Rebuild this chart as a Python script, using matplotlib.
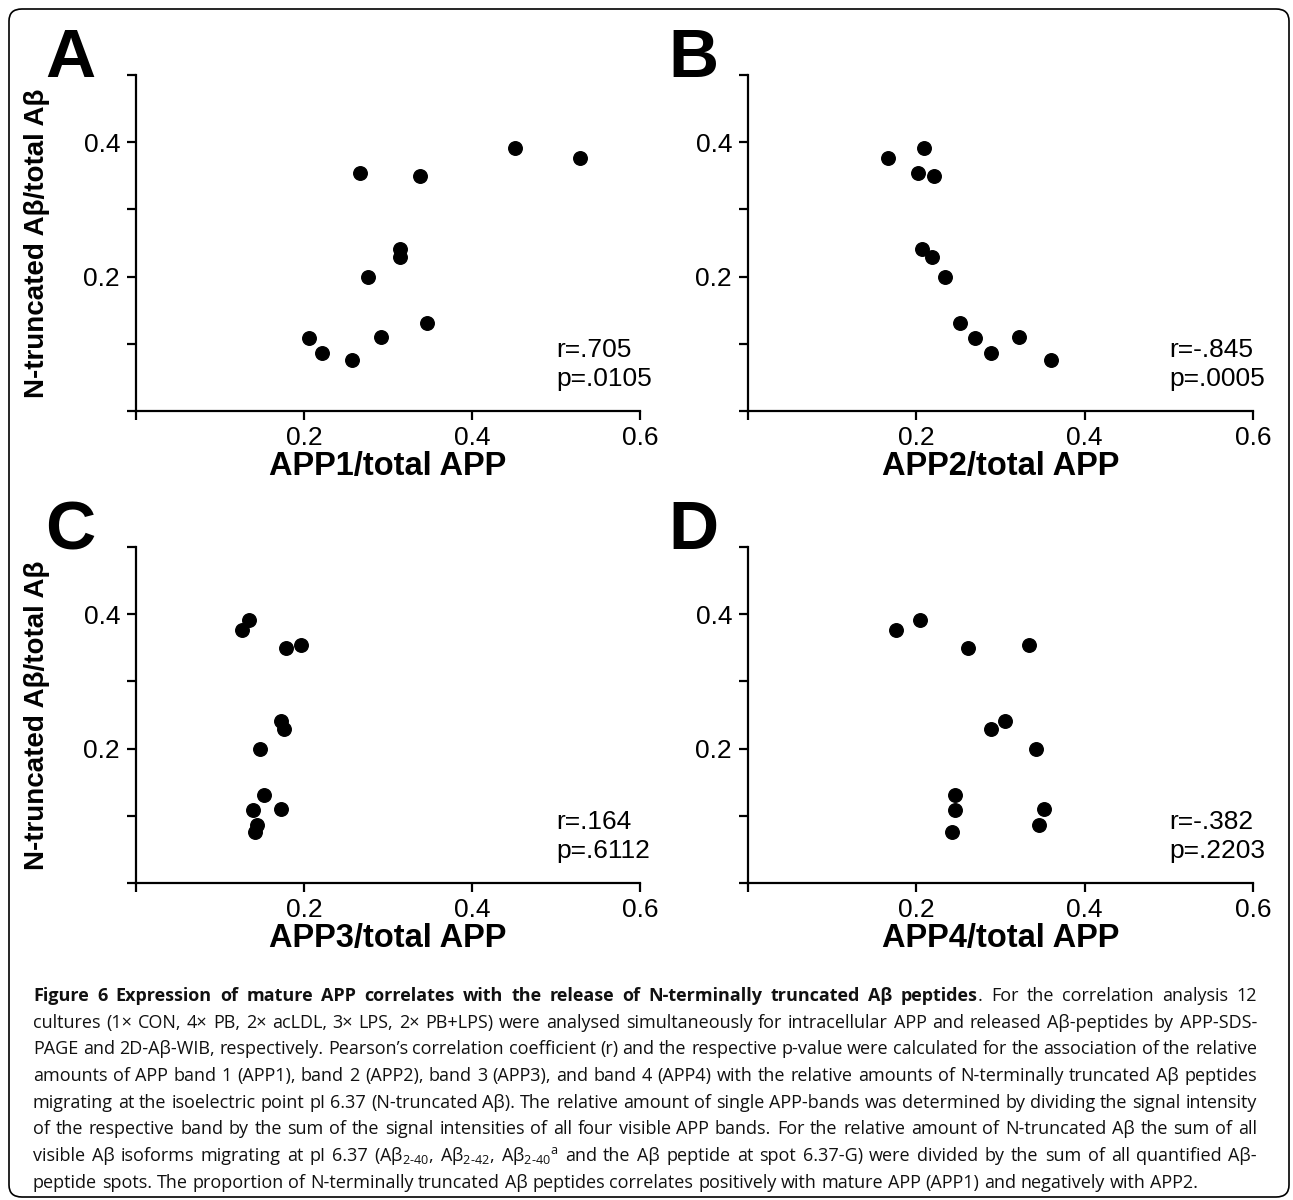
import matplotlib
matplotlib.use("Agg")
import matplotlib.pyplot as plt
from matplotlib.patches import FancyBboxPatch

# N-truncated Abeta / total Abeta (same 12 cultures in every panel)
ntrunc = [0.391, 0.377, 0.354, 0.350, 0.241, 0.229, 0.200, 0.131, 0.110, 0.109, 0.087, 0.076]

# APP band / total APP, one list per panel, same order as ntrunc
app1 = [0.451, 0.529, 0.267, 0.338, 0.314, 0.314, 0.276, 0.347, 0.292, 0.206, 0.221, 0.257]
app2 = [0.209, 0.166, 0.202, 0.221, 0.207, 0.219, 0.234, 0.252, 0.322, 0.270, 0.289, 0.360]
app3 = [0.134, 0.126, 0.196, 0.178, 0.173, 0.176, 0.148, 0.152, 0.173, 0.139, 0.144, 0.142]
app4 = [0.204, 0.176, 0.334, 0.261, 0.305, 0.289, 0.342, 0.246, 0.352, 0.246, 0.346, 0.242]

letters = ['A', 'B', 'C', 'D']
xlabels = ['APP1/total APP', 'APP2/total APP', 'APP3/total APP', 'APP4/total APP']
r_text = ['r=.705', 'r=-.845', 'r=.164', 'r=-.382']
p_text = ['p=.0105', 'p=.0005', 'p=.6112', 'p=.2203']
ylabel = 'N-truncated A\u03b2/total A\u03b2'

xticks = [0, 0.2, 0.4, 0.6]
xticklabels = ['', '0.2', '0.4', '0.6']
yticks = [0, 0.1, 0.2, 0.3, 0.4, 0.5]
yticklabels = ['', '', '0.2', '', '0.4', '']

W, H = 1293, 1200
plt.rcParams['mathtext.fontset'] = 'custom'
plt.rcParams['mathtext.rm'] = 'Open Sans'
plt.rcParams['mathtext.default'] = 'regular'

fig = plt.figure(figsize=(W / 100, H / 100), dpi=100)

def fx(px):
    return px / W

def fy(py):
    return 1 - py / H

tick_font = ['Liberation Sans Narrow', 'Liberation Sans', 'DejaVu Sans']
bold_font = ['Liberation Sans', 'DejaVu Sans']

# pixel boxes of the four axes: left, right, top, bottom
boxes = [(136, 640, 75, 411), (748, 1253, 75, 411),
         (136, 640, 547, 883), (748, 1253, 547, 883)]
data = [app1, app2, app3, app4]

for i in range(4):
    l, r, t, b = boxes[i]
    ax = fig.add_axes([fx(l), fy(b), (r - l) / W, (b - t) / H])
    ax.scatter(data[i], ntrunc, s=95, color='black', zorder=3, clip_on=False)
    ax.set_xlim(0, 0.6)
    ax.set_ylim(0, 0.5)
    ax.set_xticks(xticks)
    ax.set_xticklabels(xticklabels)
    ax.set_yticks(yticks)
    ax.set_yticklabels(yticklabels)
    for lab in ax.get_xticklabels() + ax.get_yticklabels():
        lab.set_family(tick_font)
    ax.tick_params(direction='out', length=6.5, width=1.6, labelsize=19)
    ax.tick_params(axis='x', pad=4)
    ax.tick_params(axis='y', pad=5)
    ax.spines['top'].set_visible(False)
    ax.spines['right'].set_visible(False)
    for s in ['left', 'bottom']:
        ax.spines[s].set_linewidth(1.6)
    ax.text(0.5, 0.091, r_text[i], fontsize=19, family=tick_font, va='center', ha='left')
    ax.text(0.5, 0.047, p_text[i], fontsize=19, family=tick_font, va='center', ha='left')

    # panel letter, axis titles
    fig.text(fx(l - 91 if i % 2 == 0 else l - 80), fy(t + 2), letters[i], fontsize=50,
             fontweight='bold', family=bold_font, va='baseline', ha='left')
    fig.text(fx((l + r) / 2), fy(b + 56), xlabels[i], fontsize=23.5, fontweight='bold',
             family=bold_font, va='center', ha='center')
    if i % 2 == 0:
        fig.text(fx(37), fy((t + b) / 2), ylabel, fontsize=20, fontweight='bold',
                 family=bold_font, rotation=90, va='center', ha='center')

# caption, justified line by line
cap_family = ['Open Sans', 'DejaVu Sans']
cap_lines = [
    [('Figure', 'bold'), ('6', 'bold'), ('Expression', 'bold'), ('of', 'bold'), ('mature', 'bold'),
     ('APP', 'bold'), ('correlates', 'bold'), ('with', 'bold'), ('the', 'bold'), ('release', 'bold'),
     ('of', 'bold'), ('N-terminally', 'bold'), ('truncated', 'bold'), ('A\u03b2', 'bold'),
     ('peptides', 'bold'), ('+.', 'normal'), ('For', 'normal'), ('the', 'normal'),
     ('correlation', 'normal'), ('analysis', 'normal'), ('12', 'normal')],
    'cultures (1\u00d7 CON, 4\u00d7 PB, 2\u00d7 acLDL, 3\u00d7 LPS, 2\u00d7 PB+LPS) were analysed simultaneously for intracellular APP and released A\u03b2-peptides by APP-SDS-',
    'PAGE and 2D-A\u03b2-WIB, respectively. Pearson\u2019s correlation coefficient (r) and the respective p-value were calculated for the association of the relative',
    'amounts of APP band 1 (APP1), band 2 (APP2), band 3 (APP3), and band 4 (APP4) with the relative amounts of N-terminally truncated A\u03b2 peptides',
    'migrating at the isoelectric point pI 6.37 (N-truncated A\u03b2). The relative amount of single APP-bands was determined by dividing the signal intensity',
    'of the respective band by the sum of the signal intensities of all four visible APP bands. For the relative amount of N-truncated A\u03b2 the sum of all',
    'visible A\u03b2 isoforms migrating at pI 6.37 (A\u03b2$_{\\text{2-40}}$, A\u03b2$_{\\text{2-42}}$, A\u03b2$_{\\text{2-40}}{}^{\\text{a}}$ and the A\u03b2 peptide at spot 6.37-G) were divided by the sum of all quantified A\u03b2-',
    'peptide spots. The proportion of N-terminally truncated A\u03b2 peptides correlates positively with mature APP (APP1) and negatively with APP2.',
]

renderer = fig.canvas.get_renderer()
cap_left, cap_right = 33, 1257
fs0 = 12.0

def make_tokens(line):
    if isinstance(line, str):
        return [(w, 'normal') for w in line.split(' ')]
    return line

# first pass: find the size at which the widest line just fits
widest = 0
for line in cap_lines[:-1]:
    tokens = make_tokens(line)
    tmp = [fig.text(0, 0, w.lstrip('+'), fontsize=fs0, fontweight=wt, family=cap_family)
           for w, wt in tokens]
    tot = sum(t.get_window_extent(renderer).width for t in tmp)
    gaps = sum(1 for w, wt in tokens[1:] if not w.startswith('+'))
    tot += gaps * 0.26 * fs0 * 100 / 72
    widest = max(widest, tot)
    for t in tmp:
        t.remove()
cap_fs = fs0 * (cap_right - cap_left) / widest
space = 0.26 * cap_fs * 100 / 72

for k, line in enumerate(cap_lines):
    tokens = make_tokens(line)
    base = fy(1001 + k * 26.7)
    texts, glue = [], []
    for w, wt in tokens:
        txt = fig.text(0, base, w.lstrip('+'), fontsize=cap_fs, fontweight=wt, family=cap_family,
                       color='#111111', va='baseline', ha='left')
        texts.append(txt)
        glue.append(w.startswith('+'))
    widths = [t.get_window_extent(renderer).width for t in texts]
    ngaps = sum(1 for g in glue[1:] if not g)
    if k < len(cap_lines) - 1 and ngaps > 0:
        gap = (cap_right - cap_left - sum(widths)) / ngaps
    else:
        gap = space
    x = cap_left
    for j, t in enumerate(texts):
        if j > 0 and not glue[j]:
            x += gap
        t.set_x(fx(x))
        x += widths[j]

# rounded frame round the whole figure
frame = FancyBboxPatch((fx(9), fy(1197)), fx(1289) - fx(9), fy(9) - fy(1197),
                       boxstyle='round,pad=0,rounding_size=0.01', transform=fig.transFigure,
                       facecolor='none', edgecolor='black', linewidth=1.2)
fig.patches.append(frame)

fig.savefig('out.png', dpi=100)
